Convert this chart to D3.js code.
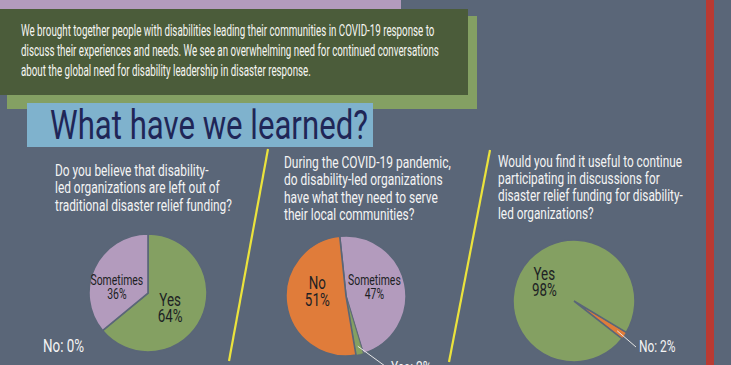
<!DOCTYPE html>
<html>
<head>
<meta charset="utf-8">
<script src="https://cdn.jsdelivr.net/npm/d3@7"></script>
<style>
  body { margin: 0; background: #5a6678; }
  svg { display: block; }
  text { font-family: Roboto, "DejaVu Sans Condensed", sans-serif; font-weight: 400; }
</style>
</head>
<body>
<svg id="chart" width="731" height="365"></svg>
<script>
// ---- data ----
const introLines = [
  "We brought together people with disabilities leading their communities in COVID-19 response to",
  "discuss their experiences and needs. We see an overwhelming need for continued conversations",
  "about the global need for disability leadership in disaster response."
]
const titleText = "What have we learned?"

const q1Lines = ["Do you believe that disability-", "led organizations are left out of", "traditional disaster relief funding?"]
const q2Lines = ["During the COVID-19 pandemic,", "do disability-led organizations", "have what they need to serve", "their local communities?"]
const q3Lines = ["Would you find it useful to continue", "participating in discussions for", "disaster relief funding for disability-", "led organizations?"]

const pie1Cats = ["Yes", "Sometimes", "No"]
const pie1Vals = [64, 36, 0]
const pie2Cats = ["Sometimes", "Yes", "No"]
const pie2Vals = [47, 2, 51]
const pie3Cats = ["No", "Yes"]
const pie3Vals = [2, 98]

// ---- styles / layout ----
const colors = { Yes: "#84a062", Sometimes: "#b39bbd", No: "#e07c3a" }
const bg = "#5a6678"
const svg = d3.select("#chart")

svg.append("rect").attr("width", 731).attr("height", 365).attr("fill", bg)

// header boxes
svg.append("rect").attr("x", 0).attr("y", 0).attr("width", 401).attr("height", 10).attr("fill", "#b39bbd")
svg.append("rect").attr("x", 7).attr("y", 16).attr("width", 470).attr("height", 93).attr("fill", "#84a063")
svg.append("rect").attr("x", 0).attr("y", 9).attr("width", 468).attr("height", 86).attr("fill", "#4b5c3a")
svg.append("rect").attr("x", 27).attr("y", 103).attr("width", 346).attr("height", 44).attr("fill", "#7fb2cd")

// right red stripe
svg.append("rect").attr("x", 706).attr("y", 0).attr("width", 8).attr("height", 365).attr("fill", "#b93a32")

// yellow separators
const seps = [[268, 149, 229, 361], [490, 150, 449, 362]]
svg.selectAll("line.sep").data(seps).enter().append("line")
  .attr("class", "sep")
  .attr("x1", d => d[0]).attr("y1", d => d[1])
  .attr("x2", d => d[2]).attr("y2", d => d[3])
  .attr("stroke", "#ebe33c").attr("stroke-width", 2.2)

// text block squeezed horizontally so the widest line hits target width
function textBlock(lines, x, y0, lh, size, target, fill, weight) {
  let g = svg.append("g")
  let t = g.append("text")
    .attr("font-size", size)
    .attr("font-weight", weight || 400)
    .attr("fill", fill)
  t.selectAll("tspan").data(lines).enter().append("tspan")
    .attr("x", 0).attr("y", (d, i) => y0 + i * lh)
    .text(d => d)
  let w = d3.max(t.selectAll("tspan").nodes(), n => n.getComputedTextLength())
  let sx = target / w
  g.attr("transform", `translate(${x},0) scale(${sx},1)`)
  return sx
}

textBlock(introLines, 21, 36, 20, 17, 418, "#f6f6f2")
textBlock([titleText], 50, 139, 0, 41, 318, "#1f2657", 500)
let sq = textBlock(q1Lines, 55, 176, 17.5, 16, 177, "#f4f4f4")
textBlock(q2Lines, 284, 168, 17.4, 16, 167, "#f4f4f4")
textBlock(q3Lines, 498, 167, 17.2, 16, 185, "#f4f4f4")

// ---- pies ----
const pies = [
  { cats: pie1Cats, vals: pie1Vals, cx: 148, cy: 293, r: 59, start: 0,
    nudge: { Yes: [-5, 2], Sometimes: [-4, 7] },
    outside: { cat: "No", text: "No: 0%", x: 43, y: 352, size: 18 } },
  { cats: pie2Cats, vals: pie2Vals, cx: 346, cy: 296, r: 60, start: -6 * Math.PI / 180,
    nudge: { Sometimes: [-1, -3], No: [1, -9] },
    outside: { cat: "Yes", text: "Yes: 2%", x: 391, y: 373, size: 16, lead: [385, 366] } },
  { cats: pie3Cats, vals: pie3Vals, cx: 574, cy: 301, r: 61, start: 121 * Math.PI / 180,
    nudge: { Yes: [-5, -2] },
    outside: { cat: "No", text: "No: 2%", x: 639, y: 352, size: 16, lead: [636, 347] } }
]

pies.forEach(p => {
  let data = p.cats.map((c, i) => ({ cat: c, val: p.vals[i] }))
  let arcs = d3.pie().sort(null).value(d => d.val)
    .startAngle(p.start).endAngle(p.start + 2 * Math.PI)(data)
  let arc = d3.arc().innerRadius(0).outerRadius(p.r)
  let labelArc = d3.arc().innerRadius(30).outerRadius(30)
  let edgeArc = d3.arc().innerRadius(p.r * 0.86).outerRadius(p.r * 0.86)

  let g = svg.append("g").attr("transform", `translate(${p.cx},${p.cy})`)
  g.selectAll("path").data(arcs.filter(a => a.data.val > 0)).enter()
    .append("path")
    .attr("d", arc)
    .attr("fill", d => colors[d.data.cat])
    .attr("stroke", bg)
    .attr("stroke-width", d => d.data.val < 5 ? 0.6 : 1.6)

  // inside labels
  arcs.filter(a => p.nudge[a.data.cat]).forEach(a => {
    let [x, y] = labelArc.centroid(a)
    let n = p.nudge[a.data.cat]
    let small = a.data.cat == "Sometimes"
    let size = small ? 14 : 18
    let lh = small ? 14 : 16.5
    let cap = small ? 10 : 12.5
    let b1 = y + n[1] - (lh - cap) / 2
    let t = g.append("text")
      .attr("transform", `translate(${x + n[0]},0) scale(${sq},1)`)
      .attr("text-anchor", "middle")
      .attr("font-size", size)
      .attr("fill", "#1d1f24")
    t.append("tspan").attr("x", 0).attr("y", b1).text(a.data.cat)
    t.append("tspan").attr("x", 0).attr("y", b1 + lh).text(a.data.val + "%")
  })

  // outside label + leader
  let o = p.outside
  if (o.lead) {
    let a = arcs.find(d => d.data.cat == o.cat)
    let [sx, sy] = edgeArc.centroid(a)
    svg.append("line")
      .attr("x1", p.cx + sx).attr("y1", p.cy + sy)
      .attr("x2", o.lead[0]).attr("y2", o.lead[1])
      .attr("stroke", "#e6e6e6").attr("stroke-width", 1)
  }
  svg.append("text")
    .attr("transform", `translate(${o.x},0) scale(${sq},1)`)
    .attr("y", o.y)
    .attr("font-size", o.size)
    .attr("fill", "#f4f4f4")
    .text(o.text)
})
</script>
</body>
</html>
